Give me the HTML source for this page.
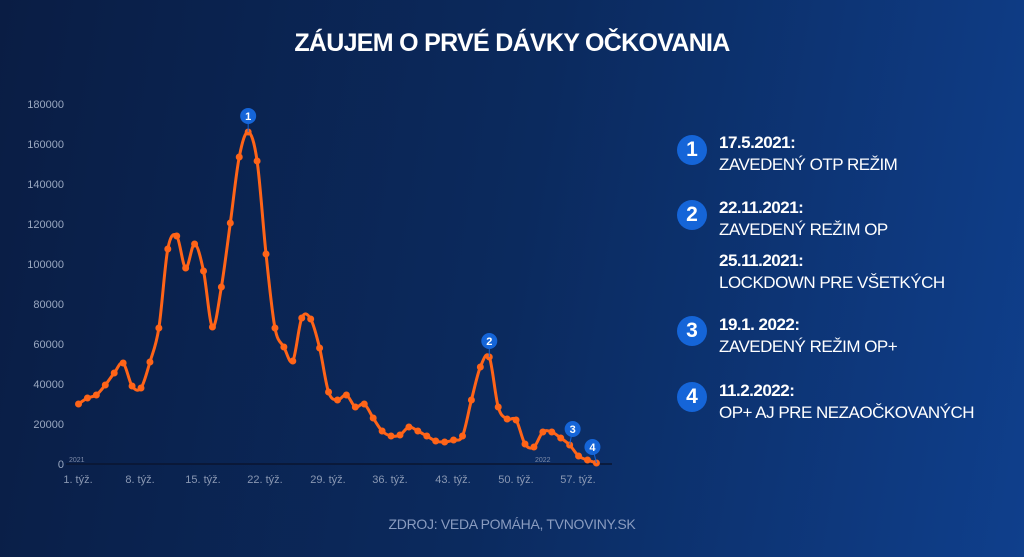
<!DOCTYPE html>
<html><head><meta charset="utf-8"><style>
html,body{margin:0;padding:0}
body{width:1024px;height:557px;overflow:hidden;background:linear-gradient(100deg,#0a1d44 0%,#0b2a5e 50%,#0f3f8c 100%);font-family:"Liberation Sans",sans-serif;position:relative}
.t{position:absolute;color:#fff}
.c{position:absolute;width:30px;height:30px;border-radius:50%;background:#1565d8;color:#fff;font-weight:bold;font-size:21px;text-align:center;line-height:30px}
.b{font-weight:bold;font-size:17px;color:#fff;position:absolute;left:719px;letter-spacing:-0.5px}
.n{font-size:17px;color:#fff;position:absolute;left:719px;letter-spacing:-0.5px}
</style></head><body>
<div class="t" style="left:0;width:1024px;top:29px;text-align:center;font-weight:bold;font-size:25px;letter-spacing:-0.7px">ZÁUJEM O PRVÉ DÁVKY OČKOVANIA</div>
<svg width="1024" height="557" style="position:absolute;left:0;top:0" font-family="Liberation Sans, sans-serif">
<g fill="#9aa8c0" font-size="11" text-anchor="end" id="yl"></g>
<line x1="66" y1="464" x2="612" y2="464" stroke="#0a1530" stroke-width="1.5"/>
<text x="69" y="462" fill="#7d8ba8" font-size="7">2021</text>
<text x="535" y="462" fill="#7d8ba8" font-size="7">2022</text>
<g fill="#8a98b3" font-size="11" text-anchor="middle">
<text x="78" y="483">1. týž.</text><text x="140" y="483">8. týž.</text><text x="203" y="483">15. týž.</text><text x="265" y="483">22. týž.</text><text x="328" y="483">29. týž.</text><text x="390" y="483">36. týž.</text><text x="453" y="483">43. týž.</text><text x="516" y="483">50. týž.</text><text x="578" y="483">57. týž.</text>
</g>
<path id="ln" fill="none" stroke="#ff6418" stroke-width="3" stroke-linejoin="round"/>
<g id="pts" fill="#ff6418"></g>
<g id="mk"></g>
</svg>
<div class="c" style="left:677px;top:135px">1</div>
<div class="b" style="top:133px">17.5.2021:</div><div class="n" style="top:155px">ZAVEDENÝ OTP REŽIM</div>
<div class="c" style="left:677px;top:200px">2</div>
<div class="b" style="top:198px">22.11.2021:</div><div class="n" style="top:220px">ZAVEDENÝ REŽIM OP</div>
<div class="b" style="top:251px">25.11.2021:</div><div class="n" style="top:273px">LOCKDOWN PRE VŠETKÝCH</div>
<div class="c" style="left:677px;top:316px">3</div>
<div class="b" style="top:315px">19.1. 2022:</div><div class="n" style="top:337px">ZAVEDENÝ REŽIM OP+</div>
<div class="c" style="left:677px;top:382px">4</div>
<div class="b" style="top:381px">11.2.2022:</div><div class="n" style="top:403px">OP+ AJ PRE NEZAOČKOVANÝCH</div>
<div class="t" style="left:0;width:1024px;top:516px;text-align:center;font-size:14px;letter-spacing:-0.3px;color:#8a9cc0">ZDROJ: VEDA POMÁHA, TVNOVINY.SK</div>
<script>
var ys=[404,398,395,385,373,363,386,388,362,328,249,236,268,244,271,327,287,223,157,132,161,254,328,347,361,318,319,348,392,400,395,407,404,418,431,436,435,427,431,436,441,442,440,436,400,367,357,407,419,420,444,447,432,432,438,445,456,460,463];
var P=ys.map(function(y,i){return [78.5+i*8.93,y]});
var d="M"+P[0][0]+","+P[0][1];
for(var i=0;i<P.length-1;i++){var p0=P[i-1]||P[i],p1=P[i],p2=P[i+1],p3=P[i+2]||p2;
d+=" C"+(p1[0]+(p2[0]-p0[0])/6)+","+(p1[1]+(p2[1]-p0[1])/6)+" "+(p2[0]-(p3[0]-p1[0])/6)+","+(p2[1]-(p3[1]-p1[1])/6)+" "+p2[0]+","+p2[1];}
document.getElementById("ln").setAttribute("d",d);
var s="";P.forEach(function(p){s+='<circle cx="'+p[0]+'" cy="'+p[1]+'" r="3.5"/>'});
document.getElementById("pts").innerHTML=s;
var yl="";for(var k=0;k<=9;k++){yl+='<text x="64" y="'+(468-k*40)+'">'+(k*20000)+'</text>'}
document.getElementById("yl").innerHTML=yl;
var m=[[20,"1"],[47,"2"],[56,"3"],[59,"4"]],h="";
m.forEach(function(a){var p=P[a[0]-1],x=p[0]+(a[0]==56?3:a[0]==59?-4:0),y=p[1]-16;
h+='<line x1="'+p[0]+'" y1="'+p[1]+'" x2="'+x+'" y2="'+y+'" stroke="#1565d8"/><circle cx="'+x+'" cy="'+(y-0)+'" r="8" fill="#1565d8"/><text x="'+x+'" y="'+(y+4)+'" fill="#fff" font-size="11" font-weight="bold" text-anchor="middle">'+a[1]+'</text>'});
document.getElementById("mk").innerHTML=h;
</script>
</body></html>
